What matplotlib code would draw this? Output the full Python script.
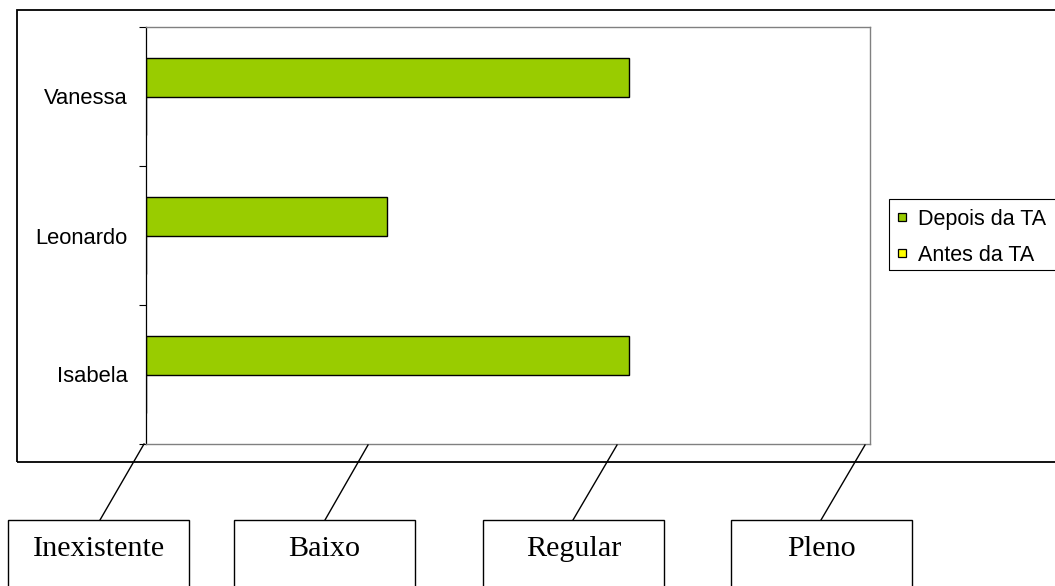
import matplotlib
matplotlib.use('Agg')
import numpy as np
import matplotlib.pyplot as plt
from matplotlib.patches import Rectangle
from matplotlib.lines import Line2D

# ---- data ----
students = ['Isabela', 'Leonardo', 'Vanessa']
depois = [2, 1, 2]
antes = [0, 0, 0]
levels = ['Inexistente', 'Baixo', 'Regular', 'Pleno']
series_names = ['Depois da TA', 'Antes da TA']
colors = ['#99CC00', '#FFFF00']

# ---- layout helpers (pixel -> figure fraction) ----
W, H = 1055, 586
fig = plt.figure(figsize=(W / 100, H / 100), dpi=100)
fig.patch.set_facecolor('white')


def fx(px):
    return px / W


def fy(py):
    return 1 - py / H


SANS = ['Liberation Sans', 'DejaVu Sans']
SERIF = ['Liberation Serif', 'DejaVu Serif']
FS = 15.5

# ---- plot area ----
ax = fig.add_axes([fx(146), fy(444), fx(870) - fx(146), fy(27) - fy(444)])
y = np.arange(len(students))
bh = 0.28
ax.barh(y + bh / 2, depois, height=bh, color=colors[0], edgecolor='black', linewidth=1.0)
ax.barh(y - bh / 2, antes, height=bh, color=colors[1], edgecolor='black', linewidth=1.0)
ax.set_xlim(0, len(levels) - 1)
ax.set_ylim(-0.5, len(students) - 0.5)
ax.set_xticks([])
ax.set_yticks(y)
ax.set_yticklabels(students, fontsize=15.8, family=SANS)
ax.set_yticks(np.arange(-0.5, len(students)), minor=True)
ax.tick_params(axis='y', which='major', length=0, pad=13)
ax.tick_params(axis='y', which='minor', length=5, width=0.8, color='black')
for s in ['top', 'right', 'bottom']:
    ax.spines[s].set_color('#808080')
    ax.spines[s].set_linewidth(1.0)
ax.spines['left'].set_color('black')
ax.spines['left'].set_linewidth(0.9)

# ---- outer chart frame ----
fig.add_artist(Rectangle((fx(17), fy(462)), fx(1090) - fx(17), fy(9.5) - fy(462),
                         transform=fig.transFigure, fill=False,
                         edgecolor='black', linewidth=1.3))

# ---- legend ----
fs_px = FS * 100 / 72
handles = [Line2D([], [], marker='s', linestyle='', markersize=6.3,
                  markerfacecolor=c, markeredgecolor='black', markeredgewidth=0.9)
           for c in colors]
fig.legend(handles, series_names, loc='upper left',
           bbox_to_anchor=(fx(893), fy(209)), frameon=False,
           borderpad=0, borderaxespad=0,
           handlelength=18 / fs_px, handletextpad=7 / fs_px, labelspacing=0.68,
           prop={'family': SANS, 'size': FS})
fig.add_artist(Rectangle((fx(889), fy(270)), fx(1090) - fx(889), fy(199) - fy(270),
                         transform=fig.transFigure, fill=False,
                         edgecolor='black', linewidth=0.8))

# ---- level annotation boxes ----
box_left = [8, 234, 483, 731]
box_w = 181
line_top = [(144, 444), (368, 445), (617, 445), (865, 445)]
line_bot_x = [100, 325, 573, 821]
for lab, bl, (tx, ty), bx in zip(levels, box_left, line_top, line_bot_x):
    fig.add_artist(Rectangle((fx(bl), fy(620)), fx(bl + box_w) - fx(bl), fy(520) - fy(620),
                             transform=fig.transFigure, fill=False,
                             edgecolor='black', linewidth=1.0))
    fig.text(fx(bl + box_w / 2), fy(549), lab, ha='center', va='center',
             fontsize=21.7, family=SERIF)
    fig.add_artist(Line2D([fx(tx), fx(bx)], [fy(ty), fy(520)],
                          transform=fig.transFigure, color='black', linewidth=1.0))

fig.savefig('out.png', dpi=100, facecolor='white')
